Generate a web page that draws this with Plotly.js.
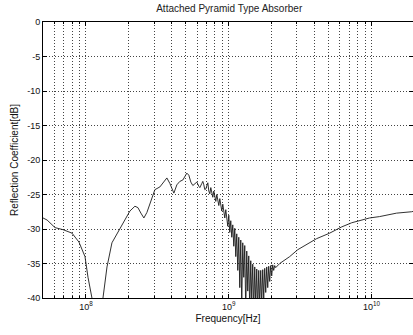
<!DOCTYPE html>
<html>
<head>
<meta charset="utf-8">
<script src="https://cdn.plot.ly/plotly-3.0.1.min.js"></script>
<style>html,body{margin:0;padding:0;background:#fff;}#chart{width:413px;height:335px;}</style>
</head>
<body>
<div id="chart"></div>
<script>
// Frequency in Hz
const freqHz = [
  5.0e7, 5.34e7, 6.07e7, 6.58e7, 6.91e7, 7.98e7, 8.93e7, 9.84e7, 1.033e8, 1.101e8, 1.194e8,
  1.315e8, 1.403e8, 1.520e8, 1.729e8, 2.03e8, 2.201e8, 2.310e8, 2.424e8, 2.544e8, 2.671e8,
  2.894e8, 3.037e8, 3.293e8, 3.568e8, 3.685e8, 3.867e8, 4.125e8, 4.328e8, 4.543e8, 4.767e8,
  4.923e8, 5.085e8, 5.251e8, 5.423e8, 5.601e8, 5.784e8, 5.973e8, 6.169e8, 6.269e8, 6.474e8,
  6.579e8, 6.686e8, 6.795e8,
  6.905e8, 7.017e8, 7.131e8, 7.247e8, 7.364e8, 7.484e8, 7.605e8, 7.729e8, 7.854e8, 7.982e8,
  8.111e8, 8.243e8, 8.377e8, 8.513e8, 8.651e8, 8.791e8, 8.934e8, 9.079e8, 9.226e8, 9.376e8,
  9.528e8, 9.683e8, 9.840e8, 1.0000e9, 1.0162e9, 1.0327e9, 1.0495e9, 1.0665e9, 1.0838e9, 1.1014e9,
  1.1193e9, 1.1374e9, 1.1559e9, 1.1746e9, 1.1937e9, 1.2131e9, 1.2328e9, 1.2528e9, 1.2731e9, 1.2937e9,
  1.3147e9, 1.3361e9, 1.3577e9, 1.3798e9, 1.4022e9, 1.4249e9, 1.4480e9, 1.4715e9, 1.4954e9, 1.5197e9,
  1.5443e9, 1.5694e9, 1.5949e9, 1.6207e9, 1.6470e9, 1.6738e9, 1.7009e9, 1.7285e9, 1.7566e9, 1.7851e9,
  1.8140e9, 1.8435e9, 1.8734e9, 1.9038e9, 1.9347e9, 1.9661e9, 1.9980e9, 2.0304e9, 2.0633e9, 2.0968e9,
  2.1308e9, 2.273e9, 2.670e9, 3.04e9, 4.12e9, 5.09e9, 6.17e9, 7.25e9, 8.24e9, 9.68e9,
  1.138e10, 1.496e10, 1.904e10, 2.0e10
];
// Reflection coefficient in dB
const reflDb = [
  -28.4, -28.7, -29.8, -30.0, -30.1, -30.6, -31.9, -34.0, -37.0, -40.0, -43.0,
  -40.0, -35.5, -32.0, -30.0, -27.4, -26.7, -26.9, -27.7, -28.4, -27.6,
  -25.5, -24.3, -23.9, -22.9, -22.6, -23.4, -24.8, -23.6, -23.1, -22.9,
  -22.3, -21.9, -22.2, -23.2, -23.7, -23.4, -23.2, -23.8, -24.0, -23.4,
  -23.1, -23.6, -24.3,
  -24.2, -23.5, -23.3, -24.5, -24.9, -24.0, -24.6, -25.4, -24.5, -25.2,
  -26.0, -25.0, -25.8, -26.6, -25.6, -26.8, -27.4, -26.4, -27.8, -28.4,
  -27.2, -29.0, -29.6, -28.0, -30.5, -28.8, -31.2, -29.4, -32.5, -29.9,
  -34.0, -30.7, -36.0, -31.2, -38.5, -31.6, -41.0, -32.0, -37.0, -32.4,
  -42.0, -33.2, -39.0, -33.9, -42.0, -34.6, -40.0, -35.1, -42.0, -35.5,
  -41.0, -35.8, -42.0, -36.0, -41.0, -36.0, -41.0, -35.9, -40.0, -35.7,
  -39.2, -35.5, -38.5, -35.4, -37.6, -35.3, -36.8, -35.2, -36.0, -35.3,
  -35.6, -35.0, -34.0, -33.0, -31.4, -30.6, -29.7, -29.1, -28.8, -28.4,
  -28.2, -27.7, -27.5, -27.4
];
// Axis ticks
const xTickVals = [1e8, 1e9, 1e10];
const xTickText = ['10<sup>8</sup>', '10<sup>9</sup>', '10<sup>10</sup>'];
const xMinorVals = [6e7, 7e7, 8e7, 9e7, 2e8, 3e8, 4e8, 5e8, 6e8, 7e8, 8e8, 9e8,
  2e9, 3e9, 4e9, 5e9, 6e9, 7e9, 8e9, 9e9];
const yTickVals = [0, -5, -10, -15, -20, -25, -30, -35, -40];
const yTickText = ['0', '-5', '-10', '-15', '-20', '-25', '-30', '-35', '-40'];

const font = 'Liberation Sans, Arial, sans-serif';
const gridDash = '1px,2px';
const trace = {
  x: freqHz, y: reflDb, type: 'scatter', mode: 'lines',
  line: {color: '#1a1a1a', width: 0.9}, hoverinfo: 'skip'
};
const axisCommon = {
  showline: true, linecolor: '#000', linewidth: 1, mirror: 'ticks',
  ticks: 'inside', ticklen: 4, tickcolor: '#000',
  showgrid: true, gridcolor: '#444', griddash: gridDash, gridwidth: 1,
  zeroline: false, tickfont: {family: font, size: 9, color: '#111'}
};
const layout = {
  width: 413, height: 335,
  margin: {l: 43, r: 0, t: 22, b: 37},
  paper_bgcolor: '#fff', plot_bgcolor: '#fff',
  showlegend: false,
  title: {text: 'Attached Pyramid Type Absorber', font: {family: font, size: 10, color: '#222'},
          x: 0.555, xanchor: 'center', y: 0.975, yanchor: 'middle', yref: 'container'},
  xaxis: Object.assign({}, axisCommon, {
    type: 'log', range: [Math.log10(5e7), Math.log10(1.95e10)],
    tickmode: 'array', tickvals: xTickVals, ticktext: xTickText,
    minor: {tickmode: 'array', tickvals: xMinorVals, ticks: 'inside', ticklen: 2, tickcolor: '#000',
            showgrid: true, gridcolor: '#444', griddash: gridDash, gridwidth: 1},
    title: {text: 'Frequency[Hz]', font: {family: font, size: 10, color: '#111'}, standoff: 4}
  }),
  yaxis: Object.assign({}, axisCommon, {
    range: [-40, 0], tickmode: 'array', tickvals: yTickVals, ticktext: yTickText,
    title: {text: 'Reflection Coefficient[dB]', font: {family: font, size: 10, color: '#111'}, standoff: 6}
  })
};
Plotly.newPlot('chart', [trace], layout, {staticPlot: true, displayModeBar: false});
</script>
</body>
</html>
